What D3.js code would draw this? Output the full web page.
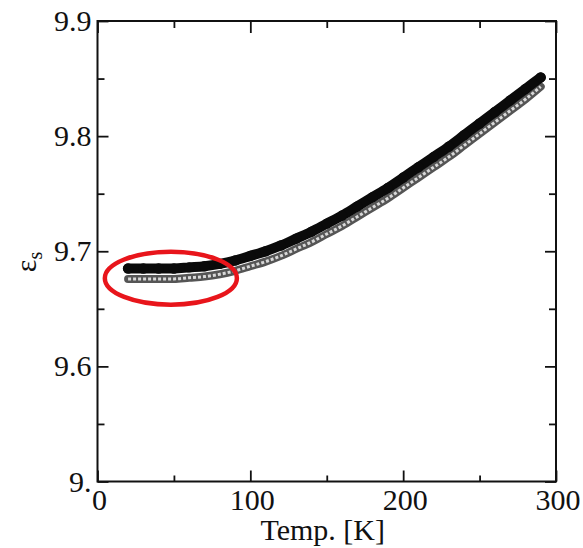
<!DOCTYPE html>
<html>
<head>
<meta charset="utf-8">
<script src="https://cdn.jsdelivr.net/npm/d3@7"></script>
<style>
  html, body { margin: 0; padding: 0; background: #fff; }
  svg { display: block; }
  text { font-family: "Liberation Serif", "DejaVu Serif", serif; fill: #111; }
</style>
</head>
<body>
<svg id="chart" width="583" height="548"></svg>
<script>
// ---- data ----
const temps = [20,30,40,50,60,70,80,90,100,110,120,130,140,150,160,170,180,190,200,210,220,230,240,250,260,270,280,290];
const epsBlack = [9.685,9.685,9.685,9.685,9.686,9.687,9.689,9.692,9.696,9.700,9.705,9.711,9.717,9.724,9.731,9.739,9.747,9.755,9.764,9.773,9.782,9.791,9.801,9.811,9.821,9.831,9.841,9.851];
const epsGray  = [9.676,9.676,9.676,9.676,9.677,9.678,9.680,9.683,9.687,9.691,9.696,9.702,9.708,9.715,9.722,9.730,9.738,9.746,9.755,9.764,9.773,9.782,9.792,9.802,9.812,9.822,9.832,9.843];
const xTicks = [0, 100, 200, 300];
const xMinor = [50, 150, 250];
const yTicks = [9.5, 9.6, 9.7, 9.8, 9.9];
const yTickLabels = ["9.", "9.6", "9.7", "9.8", "9.9"];
const yMinor = [9.55, 9.65, 9.75, 9.85];
const highlight = { t: 48, v: 9.6766, rt: 43.2, rv: 0.023 };

// ---- layout ----
const svg = d3.select("#chart");
const L = 97.5, R = 556, T = 21, B = 481.5;
const x = d3.scaleLinear().domain([0, 300]).range([L, R]);
const y = d3.scaleLinear().domain([9.5, 9.9]).range([B, T]);

// frame
svg.append("rect").attr("x", L).attr("y", T).attr("width", R - L).attr("height", B - T)
  .attr("fill", "none").attr("stroke", "#111").attr("stroke-width", 2);

// axes with inward ticks
const mk = (axisFn, scale, vals, len) => axisFn(scale).tickValues(vals).tickSize(len).tickFormat("");
function drawAxis(gen, tr) {
  const g = svg.append("g").attr("transform", tr).call(gen);
  g.select(".domain").remove();
  g.selectAll(".tick line").attr("stroke", "#111").attr("stroke-width", 1.8);
  return g;
}
// left
drawAxis(mk(d3.axisRight, y, yTicks, 11), `translate(${L},0)`);
drawAxis(mk(d3.axisRight, y, yMinor, 7), `translate(${L},0)`);
// right
drawAxis(mk(d3.axisLeft, y, yTicks, 11), `translate(${R},0)`);
drawAxis(mk(d3.axisLeft, y, yMinor, 7), `translate(${R},0)`);
// bottom
drawAxis(mk(d3.axisTop, x, xTicks, 11), `translate(0,${B})`);
drawAxis(mk(d3.axisTop, x, xMinor, 6), `translate(0,${B})`);
// top
drawAxis(mk(d3.axisBottom, x, xTicks, 12), `translate(0,${T})`);
drawAxis(mk(d3.axisBottom, x, xMinor, 7), `translate(0,${T})`);

// tick labels
svg.append("g").selectAll("text").data(yTicks).join("text")
  .attr("x", L - 6).attr("y", d => y(d) + 10)
  .attr("text-anchor", "end").attr("font-size", 30)
  .text((d, i) => yTickLabels[i]);
svg.append("g").selectAll("text").data(xTicks).join("text")
  .attr("x", d => x(d) + 2).attr("y", B + 28)
  .attr("text-anchor", "middle").attr("font-size", 30)
  .text(d => d);

// axis titles
svg.append("text").attr("x", x(150) - 4).attr("y", 540)
  .attr("text-anchor", "middle").attr("font-size", 30).text("Temp. [K]");
const yl = svg.append("text").attr("transform", `translate(36,262) rotate(-90)`)
  .attr("text-anchor", "middle").attr("font-size", 30);
yl.append("tspan").text("ε");
yl.append("tspan").attr("font-size", 20).attr("dy", 6).text("s");

// series
const ptsB = temps.map((t, i) => [t, epsBlack[i]]);
const ptsG = temps.map((t, i) => [t, epsGray[i]]);
const line = d3.line().x(d => x(d[0])).y(d => y(d[1])).curveMonotoneX;
const lineGen = d3.line().x(d => x(d[0])).y(d => y(d[1])).curve(d3.curveMonotoneX);

// gray (hollow markers) series
svg.append("path").attr("d", lineGen(ptsG)).attr("fill", "none")
  .attr("stroke", "#555").attr("stroke-width", 8).attr("stroke-linecap", "round");
svg.append("path").attr("d", lineGen(ptsG)).attr("fill", "none")
  .attr("stroke", "#d8d8d8").attr("stroke-width", 3).attr("stroke-dasharray", "3 2");

// black series
svg.append("path").attr("d", lineGen(ptsB)).attr("fill", "none")
  .attr("stroke", "#0a0a0a").attr("stroke-width", 10).attr("stroke-linecap", "round");
svg.append("g").selectAll("circle").data(ptsB).join("circle")
  .attr("cx", d => x(d[0])).attr("cy", d => y(d[1])).attr("r", 5.2).attr("fill", "#0a0a0a");

// red highlight ellipse
svg.append("ellipse")
  .attr("cx", x(highlight.t)).attr("cy", y(highlight.v))
  .attr("rx", x(highlight.t + highlight.rt) - x(highlight.t))
  .attr("ry", y(highlight.v - highlight.rv) - y(highlight.v))
  .attr("fill", "none").attr("stroke", "#e8151b").attr("stroke-width", 4.5);
</script>
</body>
</html>
